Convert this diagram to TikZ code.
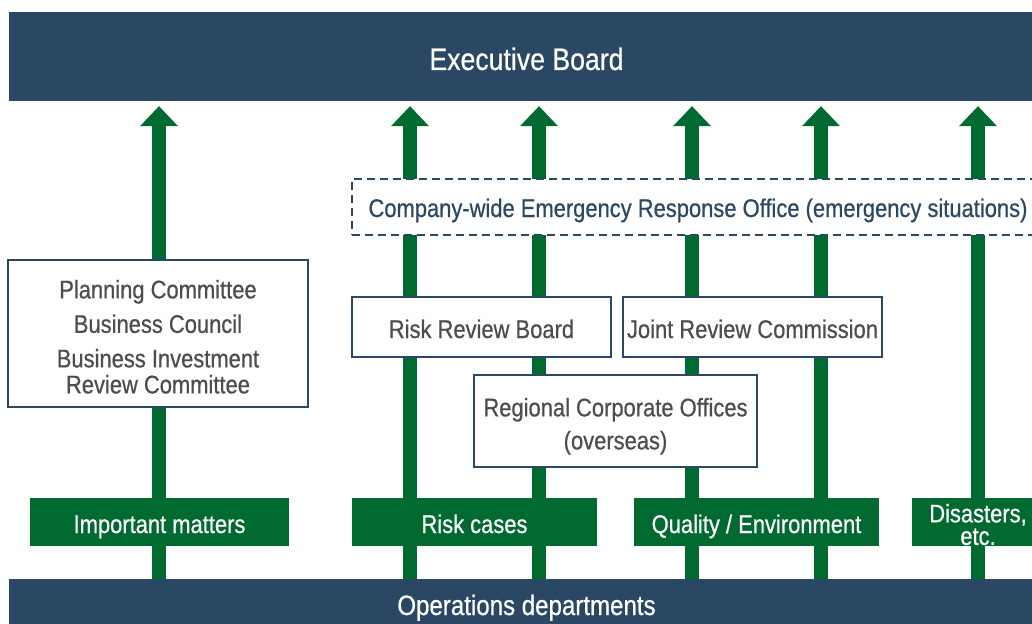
\documentclass[tikz,border=0pt]{standalone}
\usepackage{fontspec}
\setmainfont{Liberation Sans}[FakeStretch=0.86,FakeBold=0.6]
\usetikzlibrary{arrows.meta}
\definecolor{navy}{HTML}{2A4863}
\definecolor{dgreen}{HTML}{006A30}
\definecolor{txtgray}{HTML}{4D4D4D}
\pgfdeclarelayer{bg}
\pgfdeclarelayer{paper}
\pgfsetlayers{paper,bg,main}
\newcommand{\toprule}[1]{\rule{0pt}{#1}}
\begin{document}
\begin{tikzpicture}[x=1pt,y=-1pt,
  bar/.style={fill=navy,text=white,inner sep=0pt,anchor=center,text depth=0pt},
  wbox/.style={draw=navy,line width=2.2pt,fill=white,text=txtgray,inner sep=0pt,align=center,font=\fontsize{25.5}{26}\selectfont},
  dbox/.style={draw=navy,line width=2pt,dash pattern=on 8pt off 5pt,fill=white,text=navy,inner sep=0pt,text height=20pt,text depth=0pt,font=\fontsize{25.5}{26}\selectfont},
  glabel/.style={fill=dgreen,text=white,inner sep=0pt,align=center,font=\fontsize{25.5}{22.5}\selectfont},
  flow/.style={draw=dgreen,line width=14pt,-{Triangle[width=38pt,length=20pt,line width=0pt]},shorten >=5pt}]
\begin{pgfonlayer}{paper}
\fill[white] (0,0) rectangle (1032,623);
\end{pgfonlayer}
\useasboundingbox (0,0) rectangle (1032,623);
\begin{scope}
\clip (0,0) rectangle (1032,623);
\node[bar,text height=27pt,minimum width=1035pt,minimum height=89pt,font=\fontsize{31}{34}\selectfont] (exec) at (526.5,56.5) {Executive Board};
\node[bar,text height=22pt,minimum width=1035pt,minimum height=50pt,font=\fontsize{28}{30}\selectfont] (ops) at (526.5,604) {Operations departments};
\node[dbox,minimum width=692pt,minimum height=56pt] (emerg) at (698,207) {Company-wide Emergency Response Office (emergency situations)};
\node[wbox,minimum width=300pt,minimum height=147pt] (plan) at (158,333.5) {\toprule{25pt}Planning Committee\\[8.5pt]Business Council\\[8.5pt]Business Investment\\Review Committee};
\node[wbox,text height=22pt,text depth=0pt,minimum width=259pt,minimum height=60pt] (rrb) at (481.5,327) {Risk Review Board};
\node[wbox,text height=22pt,text depth=0pt,minimum width=259pt,minimum height=60pt] (jrc) at (752.5,327) {Joint Review Commission};
\node[wbox,minimum width=283pt,minimum height=92pt] (rco) at (615.5,421) {\toprule{29pt}Regional Corporate Offices\\[7pt](overseas)};
\node[glabel,text height=22pt,text depth=0pt,minimum width=259pt,minimum height=48pt] (imp) at (159.5,522) {Important matters};
\node[glabel,text height=22pt,text depth=0pt,minimum width=245pt,minimum height=48pt] (risk) at (474.5,522) {Risk cases};
\node[glabel,text height=22pt,text depth=0pt,minimum width=245pt,minimum height=48pt] (qual) at (756.5,522) {Quality / Environment};
\node[glabel,minimum width=132pt,minimum height=48pt] (dis) at (978,522) {\toprule{23.5pt}Disasters,\\etc.};
\coordinate (c1) at (159,0);
\coordinate (c2) at (410,0);
\coordinate (c3) at (539,0);
\coordinate (c4) at (692,0);
\coordinate (c5) at (821,0);
\coordinate (c6) at (978,0);
\begin{pgfonlayer}{bg}
\foreach \c in {c1,c2,c3,c4,c5,c6}
  \draw[flow] (ops.north -| \c) -- (exec.south -| \c);
\end{pgfonlayer}
\end{scope}
\end{tikzpicture}
\end{document}
